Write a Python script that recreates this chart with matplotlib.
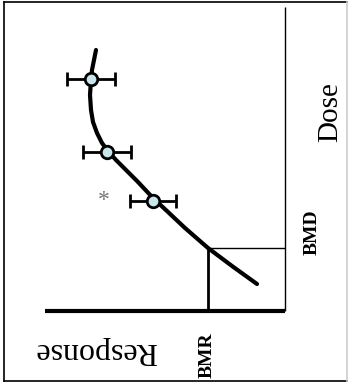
import matplotlib.pyplot as plt
from matplotlib.lines import Line2D

# Dose-response sketch, drawn rotated 90 degrees (dose points up, response points left)
# values in arbitrary units
curve_response = [189, 191, 193, 194, 195, 194, 192, 188, 183, 177, 169, 159, 147,
                  132, 117, 100, 77, 53, 28]
curve_dose = [261, 251, 241, 231, 216, 201, 189, 178, 168, 160, 151, 141, 129,
              113, 99, 83, 63, 45, 27]

point_response = [194, 178, 132]
point_dose = [232, 159, 110]
point_err = [24, 24, 23]

bmr = 77
bmd = 63
response_axis_max = 240
dose_axis_max = 304

fig = plt.figure(figsize=(3.48, 3.89), dpi=100)
ax = fig.add_axes([0, 0, 1, 1])
ax.set_xlim(285, -63)
ax.set_ylim(-78, 311)
ax.axis('off')

# axes of the sketch
ax.plot([response_axis_max, 0], [0, 0], color='black', lw=3, solid_capstyle='butt')
ax.plot([0, 0], [0, dose_axis_max], color='black', lw=1, solid_capstyle='butt')

# BMR / BMD guide lines
ax.plot([bmr, bmr], [0, bmd], color='black', lw=2, solid_capstyle='butt')
ax.plot([bmr, 0], [bmd, bmd], color='black', lw=1, solid_capstyle='butt')

# fitted curve
ax.plot(curve_response, curve_dose, color='black', lw=3,
        solid_capstyle='round', solid_joinstyle='round')

# observations with error bars (error in response direction)
ax.errorbar(point_response, point_dose, xerr=point_err, fmt='o', color='black',
            ecolor='black', elinewidth=2, capsize=5, capthick=2,
            markersize=9, markerfacecolor='#c9e6ec', markeredgecolor='black',
            markeredgewidth=2, zorder=3)

ax.text(181, 110, '*', fontsize=17, color='#777777', family='Liberation Serif',
        ha='center', va='center')

ax.text(189, -39, 'Response', fontsize=23, family='Liberation Serif',
        rotation=180, ha='center', va='center')
ax.text(-45, 199, 'Dose', fontsize=21, family='Liberation Serif',
        rotation=90, ha='center', va='center')
ax.text(-27, 79, 'BMD', fontsize=14, family='Liberation Serif', weight='bold',
        rotation=90, ha='center', va='center')
ax.text(78, -44, 'BMR', fontsize=14, family='Liberation Serif', weight='bold',
        rotation=90, ha='center', va='center')

# frame around the picture
w, h = 348, 389
for (x0, y0, x1, y1, c) in [(4, 2, 4, 381, 'black'), (4, 2, 347, 2, 'black'),
                            (4, 381, 347, 381, 'black'), (347, 2, 347, 381, '#cccccc')]:
    fig.add_artist(Line2D([x0 / w, x1 / w], [1 - y0 / h, 1 - y1 / h],
                          transform=fig.transFigure, color=c, lw=1.2))

fig.savefig('out.png', dpi=100)
